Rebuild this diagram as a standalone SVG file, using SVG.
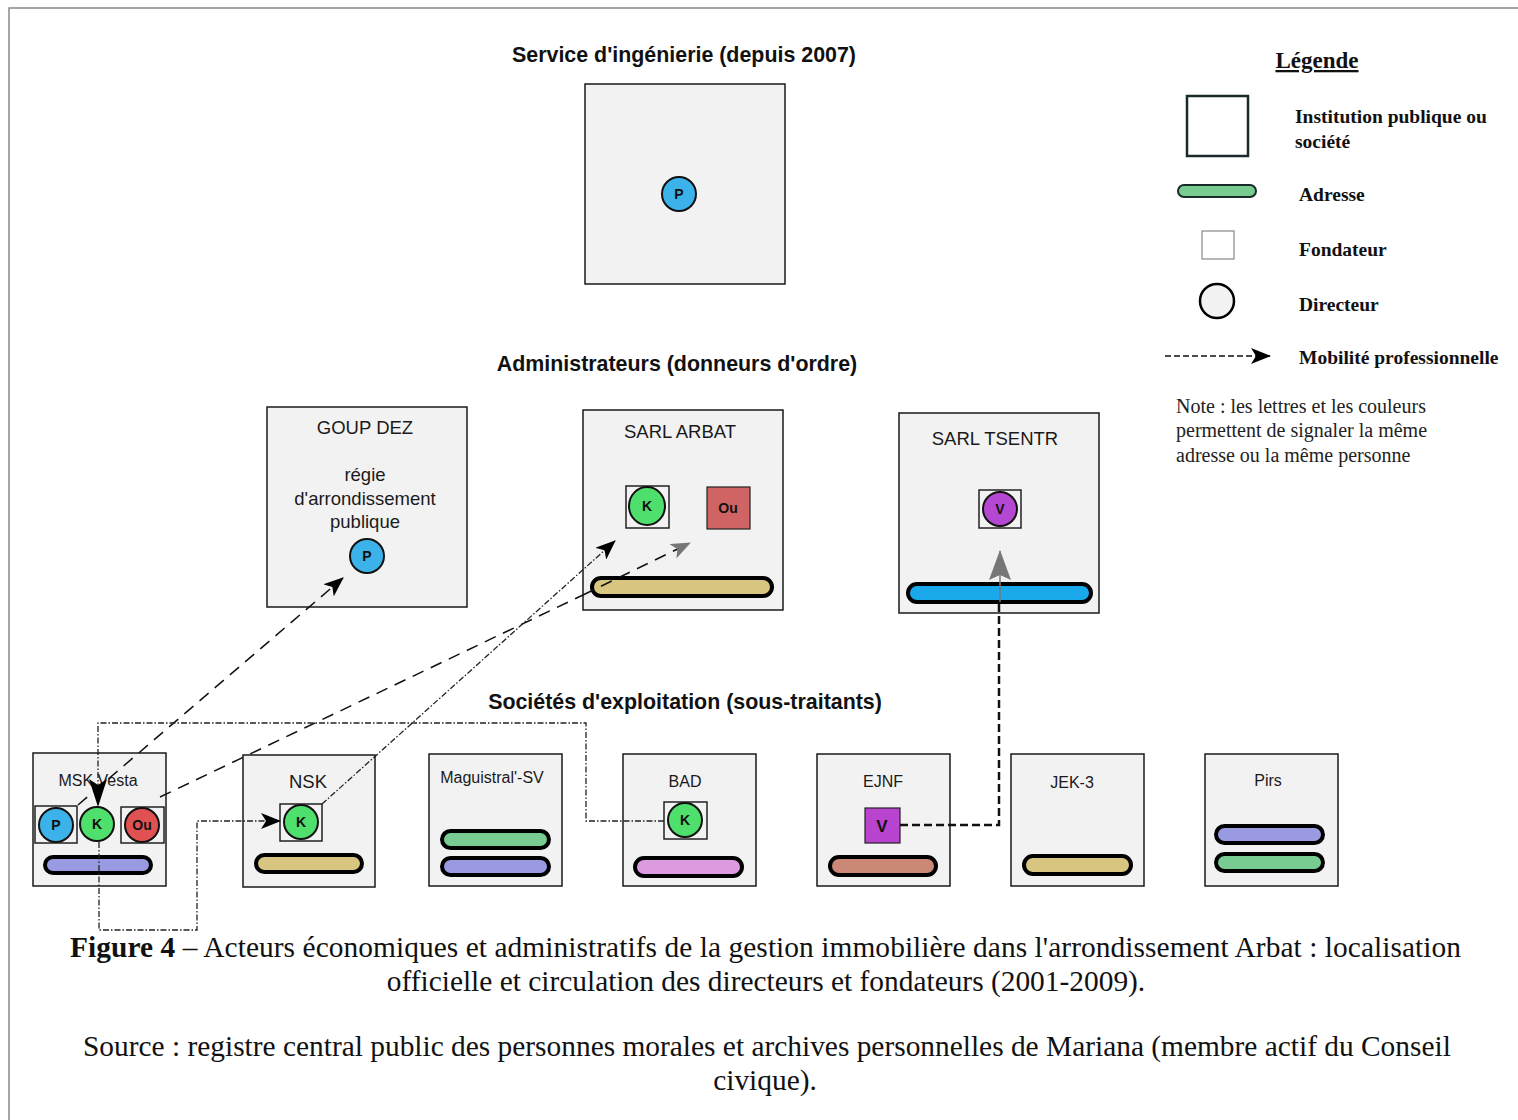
<svg xmlns="http://www.w3.org/2000/svg" width="1518" height="1120" viewBox="0 0 1518 1120">
<style>
.box{fill:#f2f2f2;stroke:#1a1a1a;stroke-width:1.5}
.ttl{font-family:"Liberation Sans",Arial,sans-serif;font-size:21.4px;font-weight:bold;fill:#111;text-anchor:middle}
.lbl{font-family:"Liberation Sans",Arial,sans-serif;font-size:18.5px;fill:#1a1a1a;text-anchor:middle}
.sm{font-size:16px}
.ltr{font-family:"Liberation Sans",Arial,sans-serif;font-size:14px;font-weight:bold;fill:#111;text-anchor:middle}
.ltrb{font-family:"Liberation Sans",Arial,sans-serif;font-size:17px;font-weight:bold;fill:#111;text-anchor:middle}
.circ{stroke:#111;stroke-width:2}
.fond{fill:none;stroke:#222;stroke-width:1.5}
.bar{stroke:#000;stroke-width:4}
.leg{font-family:"Liberation Serif","Times New Roman",serif;font-size:19.5px;font-weight:bold;fill:#111}
.note{font-family:"Liberation Serif","Times New Roman",serif;font-size:20px;fill:#222}
.cap{font-family:"Liberation Serif","Times New Roman",serif;font-size:29.4px;fill:#111}
.blue{fill:#3cb2ea}.green{fill:#4fdf6c}.red{fill:#e05252}.purple{fill:#b448d2}
.tan{fill:#d8c57f}.lav{fill:#9a9ae2}.mint{fill:#78cc92}.pink{fill:#dc9ae0}.brown{fill:#cc8876}.sky{fill:#19a8ea}
.dash{fill:none;stroke:#111;stroke-width:1.5;stroke-dasharray:12 8}
.dd{fill:none;stroke:#222;stroke-width:1.3;stroke-dasharray:6 2 1.5 2}
</style>
<defs>
<marker id="ah" markerUnits="userSpaceOnUse" viewBox="0 0 20 16" refX="19" refY="8" markerWidth="20" markerHeight="16" orient="auto"><path d="M0,0 L20,8 L0,16 L5,8 z" fill="#000"/></marker>
<marker id="ahg" markerUnits="userSpaceOnUse" viewBox="0 0 20 16" refX="19" refY="8" markerWidth="20" markerHeight="16" orient="auto"><path d="M0,0 L20,8 L0,16 L5,8 z" fill="#777"/></marker>
<marker id="ahL" markerUnits="userSpaceOnUse" viewBox="0 0 28 18" refX="27" refY="9" markerWidth="28" markerHeight="18" orient="auto"><path d="M0,0 L28,9 L0,18 L6,9 z" fill="#000"/></marker>
<marker id="ahGL" markerUnits="userSpaceOnUse" viewBox="0 0 30 22" refX="29" refY="11" markerWidth="30" markerHeight="22" orient="auto"><path d="M0,0 L30,11 L0,22 L5,11 z" fill="#777"/></marker>
</defs>

<path d="M9,1120 V8 H1518" fill="none" stroke="#888" stroke-width="1.5"/>

<text class="ttl" x="684" y="62">Service d'ingénierie (depuis 2007)</text>
<text class="ttl" x="677" y="371">Administrateurs (donneurs d'ordre)</text>
<text class="ttl" x="685" y="709">Sociétés d'exploitation (sous-traitants)</text>

<g id="service-ingenierie">
<rect class="box" x="585" y="84" width="200" height="200"/>
<circle class="circ blue" cx="679" cy="194" r="17"/><text class="ltr" x="679" y="199">P</text>
</g>

<g id="goup-dez">
<rect class="box" x="267" y="407" width="200" height="200"/>
<text class="lbl" x="365" y="434">GOUP DEZ</text>
<text class="lbl" x="365" y="481">régie</text>
<text class="lbl" x="365" y="505">d'arrondissement</text>
<text class="lbl" x="365" y="528">publique</text>
<circle class="circ blue" cx="367" cy="556" r="17"/><text class="ltr" x="367" y="561">P</text>
</g>

<g id="sarl-arbat">
<rect class="box" x="583" y="410" width="200" height="200"/>
<text class="lbl" x="680" y="438">SARL ARBAT</text>
<rect class="fond" x="626" y="486" width="43" height="42"/>
<ellipse class="circ green" cx="647" cy="506" rx="18" ry="19"/><text class="ltr" x="647" y="511">K</text>
<rect x="707" y="487" width="43" height="42" fill="#d06464" stroke="#222" stroke-width="1.2"/><text class="ltr" x="728" y="513">Ou</text>
<rect class="bar tan" x="592" y="578" width="180" height="18" rx="9"/>
</g>

<g id="sarl-tsentr">
<rect class="box" x="899" y="413" width="200" height="200"/>
<text class="lbl" x="995" y="445">SARL TSENTR</text>
<rect class="fond" x="979" y="490" width="42" height="38"/>
<circle class="circ purple" cx="1000" cy="509" r="17"/><text class="ltr" x="1000" y="514">V</text>
<rect class="bar sky" x="908" y="584" width="183" height="18" rx="9"/>
</g>

<g id="msk-vesta">
<rect class="box" x="33" y="753" width="133" height="133"/>
<text class="lbl sm" x="98" y="786">MSK Vesta</text>
<rect class="fond" x="35" y="806" width="42" height="37"/>
<circle class="circ blue" cx="56" cy="825" r="17"/><text class="ltr" x="56" y="830">P</text>
<circle class="circ green" cx="97" cy="824" r="17"/><text class="ltr" x="97" y="829">K</text>
<rect class="fond" x="121" y="807" width="43" height="36"/>
<circle class="circ red" cx="142" cy="825" r="17"/><text class="ltr" x="142" y="830">Ou</text>
<rect class="bar lav" x="45" y="857" width="106" height="16" rx="8"/>
</g>

<g id="nsk">
<rect class="box" x="243" y="755" width="132" height="132"/>
<text class="lbl" x="308" y="788">NSK</text>
<rect class="fond" x="280" y="804" width="42" height="37"/>
<circle class="circ green" cx="301" cy="822" r="17"/><text class="ltr" x="301" y="827">K</text>
<rect class="bar tan" x="256" y="855" width="106" height="17" rx="8.5"/>
</g>

<g id="maguistral-sv">
<rect class="box" x="429" y="754" width="133" height="132"/>
<text class="lbl sm" x="492" y="783">Maguistral'-SV</text>
<rect class="bar mint" x="442" y="831" width="107" height="17" rx="8.5"/>
<rect class="bar lav" x="442" y="858" width="107" height="17" rx="8.5"/>
</g>

<g id="bad">
<rect class="box" x="623" y="754" width="133" height="132"/>
<text class="lbl sm" x="685" y="787">BAD</text>
<rect class="fond" x="664" y="802" width="43" height="37"/>
<circle class="circ green" cx="685" cy="820" r="17"/><text class="ltr" x="685" y="825">K</text>
<rect class="bar pink" x="635" y="858" width="107" height="18" rx="9"/>
</g>

<g id="ejnf">
<rect class="box" x="817" y="754" width="133" height="132"/>
<text class="lbl sm" x="883" y="787">EJNF</text>
<rect x="865" y="808" width="35" height="35" fill="#b844d0" stroke="#222" stroke-width="1.2"/><text class="ltrb" x="882" y="832">V</text>
<rect class="bar brown" x="830" y="857" width="106" height="18" rx="9"/>
</g>

<g id="jek-3">
<rect class="box" x="1011" y="754" width="133" height="132"/>
<text class="lbl sm" x="1072" y="788">JEK-3</text>
<rect class="bar tan" x="1024" y="856" width="107" height="18" rx="9"/>
</g>

<g id="pirs">
<rect class="box" x="1205" y="754" width="133" height="132"/>
<text class="lbl sm" x="1268" y="786">Pirs</text>
<rect class="bar lav" x="1216" y="826" width="107" height="17" rx="8.5"/>
<rect class="bar mint" x="1216" y="854" width="107" height="17" rx="8.5"/>
</g>

<g id="connectors">
<path class="dash" d="M78,805 L343,578" marker-end="url(#ah)"/>
<path class="dash" d="M160,797 L583,595"/>
<path class="dash" d="M583,595 L690,543" stroke="#888" marker-end="url(#ahg)"/>
<path class="dd" d="M322,804 L615,541" marker-end="url(#ah)"/>
<path class="dd" d="M99,842 V930 H197 V821 H280" marker-end="url(#ah)"/>
<path class="dd" d="M664,821 H586 V723 H98 V806" marker-end="url(#ahL)"/>
<path d="M900,825 H999 V602" fill="none" stroke="#111" stroke-width="2.5" stroke-dasharray="8 4"/>
<path d="M1000,602 V551" fill="none" stroke="#777" stroke-width="1.5" marker-end="url(#ahGL)"/>
</g>

<g id="legend">
<text x="1317" y="68" text-anchor="middle" font-family="'Liberation Serif','Times New Roman',serif" font-size="23" font-weight="bold" fill="#111" text-decoration="underline">Légende</text>
<rect x="1187" y="96" width="61" height="60" fill="#fff" stroke="#1a2a2a" stroke-width="2.5"/>
<text class="leg" x="1295" y="123">Institution publique ou</text>
<text class="leg" x="1295" y="148">société</text>
<rect x="1178" y="185" width="78" height="12" rx="6" class="mint" stroke="#1a2a2a" stroke-width="2"/>
<text class="leg" x="1299" y="201">Adresse</text>
<rect x="1202" y="231" width="32" height="28" fill="#fff" stroke="#888" stroke-width="1.2"/>
<text class="leg" x="1299" y="256">Fondateur</text>
<circle cx="1217" cy="301" r="17" fill="#f2f2f2" stroke="#000" stroke-width="2.5"/>
<text class="leg" x="1299" y="311">Directeur</text>
<path d="M1165,356 H1270" fill="none" stroke="#111" stroke-width="1.5" stroke-dasharray="6 3" marker-end="url(#ah)"/>
<text class="leg" x="1299" y="364">Mobilité professionnelle</text>
<text class="note" x="1176" y="413">Note : les lettres et les couleurs</text>
<text class="note" x="1176" y="437">permettent de signaler la même</text>
<text class="note" x="1176" y="462">adresse ou la même personne</text>
</g>

<g id="caption">
<text class="cap" x="70" y="957" textLength="1391" lengthAdjust="spacing"><tspan font-weight="bold">Figure 4</tspan> –  Acteurs économiques et administratifs de la gestion immobilière dans l'arrondissement Arbat : localisation</text>
<text class="cap" x="766" y="991" text-anchor="middle">officielle et circulation des directeurs et fondateurs (2001-2009).</text>
<text class="cap" x="83" y="1056">Source : registre central public des personnes morales et archives personnelles de Mariana (membre actif du Conseil</text>
<text class="cap" x="765" y="1090" text-anchor="middle">civique).</text>
</g>
</svg>
